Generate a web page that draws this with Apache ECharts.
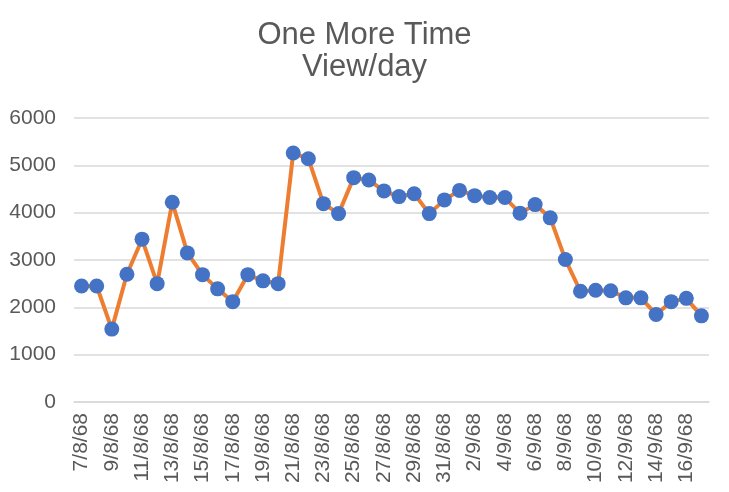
<!DOCTYPE html>
<html>
<head>
    <meta charset="utf-8">
    <title>One More Time</title>
    <script src="https://cdn.jsdelivr.net/npm/echarts@6/dist/echarts.min.js"></script>
</head>
<body style="margin: 0; padding: 0; background: #fff;">
<div id="main" style="width: 729px; height: 492px;"></div>
<script type="text/javascript">
    // วันที่ (ว/ด/ปี พ.ศ. แบบย่อ)
    var days = [
        '7/8/68', '8/8/68', '9/8/68', '10/8/68', '11/8/68', '12/8/68', '13/8/68',
        '14/8/68', '15/8/68', '16/8/68', '17/8/68', '18/8/68', '19/8/68', '20/8/68',
        '21/8/68', '22/8/68', '23/8/68', '24/8/68', '25/8/68', '26/8/68', '27/8/68',
        '28/8/68', '29/8/68', '30/8/68', '31/8/68', '1/9/68', '2/9/68', '3/9/68',
        '4/9/68', '5/9/68', '6/9/68', '7/9/68', '8/9/68', '9/9/68', '10/9/68',
        '11/9/68', '12/9/68', '13/9/68', '14/9/68', '15/9/68', '16/9/68', '17/9/68'
    ];
    var views = [
        2450, 2450, 1540, 2700, 3440, 2500, 4220,
        3150, 2690, 2390, 2120, 2690, 2560, 2500,
        5260, 5140, 4190, 3980, 4740, 4690, 4460,
        4340, 4400, 3980, 4270, 4470, 4360, 4320,
        4320, 3990, 4170, 3890, 3010, 2340, 2360,
        2350, 2200, 2200, 1850, 2120, 2190, 1820
    ];
    var yTicks = [0, 1000, 2000, 3000, 4000, 5000, 6000];

    var font = "'Liberation Sans', Arial, sans-serif";
    var myChart = echarts.init(document.getElementById('main'));

    var option = {
        backgroundColor: '#ffffff',
        title: {
            text: 'One More Time\nView/day',
            left: 'center',
            top: 14,
            textStyle: {
                color: '#595959',
                fontFamily: font,
                fontSize: 31,
                fontWeight: 'normal',
                lineHeight: 32
            }
        },
        grid: {
            left: 74,
            right: 20,
            top: 118,
            bottom: 90
        },
        xAxis: {
            type: 'category',
            data: days,
            boundaryGap: true,
            axisLine: { lineStyle: { color: '#D9D9D9', width: 1.5 } },
            axisTick: { interval: 1, length: 5, lineStyle: { color: '#D9D9D9', width: 1.5 } },
            axisLabel: {
                interval: 1,
                rotate: 90,
                margin: 11,
                color: '#595959',
                fontFamily: font,
                fontSize: 21
            }
        },
        yAxis: {
            type: 'value',
            min: yTicks[0],
            max: yTicks[yTicks.length - 1],
            interval: 1000,
            axisLine: { show: false },
            axisTick: { show: false },
            axisLabel: {
                margin: 18,
                color: '#595959',
                fontFamily: font,
                fontSize: 21,
                formatter: function (v) { return String(v); }
            },
            splitLine: { lineStyle: { color: '#D9D9D9', width: 1.5 } }
        },
        series: [{
            name: 'View/day',
            type: 'line',
            data: views,
            symbol: 'circle',
            symbolSize: 15,
            showAllSymbol: true,
            lineStyle: { color: '#ED7D31', width: 4 },
            itemStyle: { color: '#4472C4' },
            animation: false
        }]
    };

    myChart.setOption(option);
</script>
</body>
</html>
